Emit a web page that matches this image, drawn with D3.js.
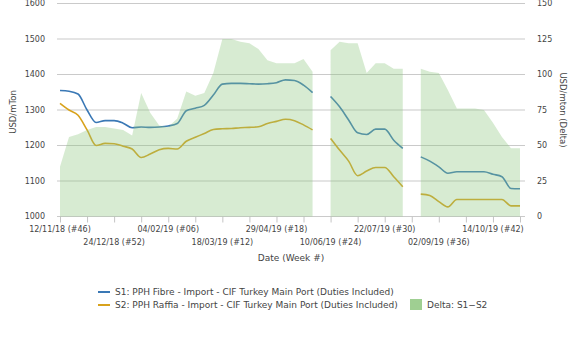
<!DOCTYPE html>
<html>
<head>
<meta charset="utf-8">
<script src="https://cdn.jsdelivr.net/npm/d3@7"></script>
<style>
  body { margin: 0; background: #fff; }
  text { font-family: "DejaVu Sans", sans-serif; fill: #444; }
</style>
</head>
<body>
<div id="chart"></div>
<script>
// DATA (weekly, 12/11/18 .. 04/11/19, null = no quote that week)
const startDate = new Date(2018, 10, 12);
const endDate = new Date(2019, 10, 4);
const weeks = d3.range(52).map((i) => d3.timeDay.offset(startDate, 7 * i));

const s1Fibre = [
  1355, 1353, 1345, 1300, 1265, 1270, 1270, 1263, 1250, 1252,
  1251, 1252, 1255, 1262, 1298, 1305, 1313, 1342, 1373, 1375,
  1375, 1374, 1373, 1374, 1377, 1385, 1383, 1370, 1349, null,
  1338, 1309, 1272, 1236, 1231, 1246, 1246, 1215, 1192, null,
  1168, 1156, 1140, 1122, 1126, 1126, 1126, 1126, 1119, 1112,
  1079, 1078
];
const s2Raffia = [
  1319, 1300, 1285, 1244, 1200, 1206, 1205, 1198, 1190, 1166,
  1176, 1188, 1192, 1190, 1212, 1223, 1234, 1245, 1247, 1248,
  1250, 1251, 1253, 1262, 1268, 1274, 1270, 1258, 1244, null,
  1220, 1187, 1156, 1115, 1128, 1138, 1138, 1112, 1084, null,
  1063, 1059, 1042, 1027, 1048, 1048, 1048, 1048, 1048, 1048,
  1030, 1030
];
const delta = [
  35, 56, 58, 61, 63, 63, 62, 61, 57, 87,
  73, 64, 63, 69, 88, 85, 87, 101, 125, 125,
  123, 122, 118, 110, 108, 108, 108, 111, 102, null,
  117, 123, 122, 122, 101, 108, 108, 104, 104, null,
  104, 102, 101, 89, 76, 76, 76, 75, 66, 56,
  48, 48
];

const leftTicks = [1000, 1100, 1200, 1300, 1400, 1500, 1600];
const rightTicks = [0, 25, 50, 75, 100, 125, 150];
const tickLabels = [
  "12/11/18 (#46)", "24/12/18 (#52)", "04/02/19 (#06)", "18/03/19 (#12)",
  "29/04/19 (#18)", "10/06/19 (#24)", "22/07/19 (#30)", "02/09/19 (#36)",
  "14/10/19 (#42)"
];
const seriesNames = [
  "S1: PPH Fibre - Import - CIF Turkey Main Port (Duties Included)",
  "S2: PPH Raffia - Import - CIF Turkey Main Port (Duties Included)",
  "Delta: S1\u2212S2"
];

const WIDTH = 576;
const HEIGHT = 351;
const PLOT = { LEFT: 57, RIGHT: 525, TOP: 3.5, BOTTOM: 216.5 };
const COLORS = { s1: "#3a78b5", s2: "#d8a21c", delta: "#8cc67e" };

// CANVAS
const svg = d3
  .select("#chart")
  .append("svg")
  .attr("width", WIDTH)
  .attr("height", HEIGHT);

// SCALES
const x = d3.scaleTime().domain([startDate, endDate]).range([60, 520]);
const yLeft = d3.scaleLinear().domain([1000, 1600]).range([PLOT.BOTTOM, PLOT.TOP]);
const yRight = d3.scaleLinear().domain([0, 150]).range([PLOT.BOTTOM, PLOT.TOP]);

// GRID
svg
  .append("g")
  .selectAll("line")
  .data(leftTicks)
  .enter()
  .append("line")
  .attr("x1", PLOT.LEFT)
  .attr("x2", PLOT.RIGHT)
  .attr("y1", (d) => yLeft(d))
  .attr("y2", (d) => yLeft(d))
  .attr("stroke", "#cacaca")
  .attr("stroke-width", 1.2);

// AXES
const xTicks = d3.timeDay.range(startDate, d3.timeDay.offset(endDate, 1), 21);
svg
  .append("g")
  .attr("transform", `translate(0, ${PLOT.BOTTOM})`)
  .call(d3.axisBottom(x).tickValues(xTicks).tickSize(6).tickFormat(""))
  .call((g) => {
    g.select(".domain").remove();
    g.selectAll(".tick line").attr("stroke", "#c4c4c4");
  });

svg
  .append("g")
  .selectAll("text")
  .data(tickLabels)
  .enter()
  .append("text")
  .attr("x", (d, i) => x(xTicks[i * 2]))
  .attr("y", (d, i) => (i % 2 === 0 ? 232 : 245))
  .attr("text-anchor", "middle")
  .attr("font-size", "8px")
  .text((d) => d);

svg
  .append("g")
  .selectAll("text")
  .data(leftTicks)
  .enter()
  .append("text")
  .attr("x", 45)
  .attr("y", (d) => yLeft(d))
  .attr("dy", "0.35em")
  .attr("text-anchor", "end")
  .attr("font-size", "8px")
  .text((d) => d);

svg
  .append("g")
  .selectAll("text")
  .data(rightTicks)
  .enter()
  .append("text")
  .attr("x", 537)
  .attr("y", (d) => yRight(d))
  .attr("dy", "0.35em")
  .attr("font-size", "8px")
  .text((d) => d);

// LABELS
svg
  .append("text")
  .attr("transform", `translate(16, 112) rotate(-90)`)
  .attr("text-anchor", "middle")
  .attr("font-size", "8.5px")
  .text("USD/mTon");

svg
  .append("text")
  .attr("transform", `translate(560, 110) rotate(90)`)
  .attr("text-anchor", "middle")
  .attr("font-size", "8.5px")
  .text("USD/mton (Delta)");

svg
  .append("text")
  .attr("x", 291)
  .attr("y", 261)
  .attr("text-anchor", "middle")
  .attr("font-size", "9px")
  .text("Date (Week #)");

// ELEMENTS
const s1Line = d3
  .line()
  .defined((d, i) => s1Fibre[i] !== null)
  .x((d) => x(d))
  .y((d, i) => yLeft(s1Fibre[i]))
  .curve(d3.curveMonotoneX);

const s2Line = d3
  .line()
  .defined((d, i) => s2Raffia[i] !== null)
  .x((d) => x(d))
  .y((d, i) => yLeft(s2Raffia[i]))
  .curve(d3.curveMonotoneX);

const deltaArea = d3
  .area()
  .defined((d, i) => delta[i] !== null)
  .x((d) => x(d))
  .y0(yRight(0))
  .y1((d, i) => yRight(delta[i]));

svg
  .append("path")
  .datum(weeks)
  .attr("d", s1Line)
  .attr("fill", "none")
  .attr("stroke", COLORS.s1)
  .attr("stroke-width", 1.6);

svg
  .append("path")
  .datum(weeks)
  .attr("d", s2Line)
  .attr("fill", "none")
  .attr("stroke", COLORS.s2)
  .attr("stroke-width", 1.6);

svg
  .append("path")
  .datum(weeks)
  .attr("d", deltaArea)
  .attr("fill", COLORS.delta)
  .attr("fill-opacity", 0.35);

// LEGEND
const legend = svg.append("g");
legend
  .selectAll("line")
  .data([COLORS.s1, COLORS.s2])
  .enter()
  .append("line")
  .attr("x1", 98)
  .attr("x2", 110)
  .attr("y1", (d, i) => 292 + i * 13)
  .attr("y2", (d, i) => 292 + i * 13)
  .attr("stroke", (d) => d)
  .attr("stroke-width", 2);

legend
  .selectAll("text.series")
  .data(seriesNames.slice(0, 2))
  .enter()
  .append("text")
  .attr("class", "series")
  .attr("x", 115)
  .attr("y", (d, i) => 292 + i * 13)
  .attr("dy", "0.35em")
  .attr("font-size", "9px")
  .text((d) => d);

legend
  .append("rect")
  .attr("x", 410)
  .attr("y", 299)
  .attr("width", 12)
  .attr("height", 11)
  .attr("fill", "#9fcf92");

legend
  .append("text")
  .attr("x", 427)
  .attr("y", 305)
  .attr("dy", "0.35em")
  .attr("font-size", "9px")
  .text(seriesNames[2]);
</script>
</body>
</html>
